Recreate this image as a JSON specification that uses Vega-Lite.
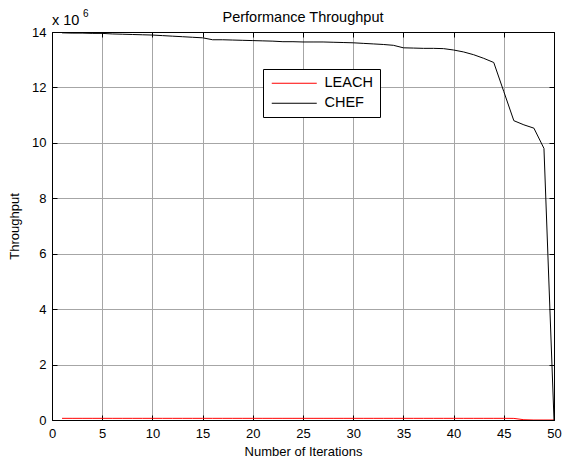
{
  "$schema": "https://vega.github.io/schema/vega-lite/v6.json",
  "width": 502,
  "height": 388,
  "autosize": {"type": "none"},
  "padding": {"left": 52, "top": 32, "right": 9, "bottom": 44},
  "background": "white",
  "title": {
    "text": "Performance Throughput",
    "font": "Liberation Sans",
    "fontSize": 14.5,
    "fontWeight": "normal",
    "color": "black",
    "anchor": "middle",
    "baseline": "alphabetic",
    "offset": -11,
    "dy": 16
  },
  "config": {
    "view": {"stroke": "black", "strokeWidth": 1},
    "font": "Liberation Sans",
    "axis": {
      "labelFont": "Liberation Sans",
      "labelFontSize": 13,
      "labelColor": "black",
      "labelFlush": false,
      "titleFont": "Liberation Sans",
      "titleFontSize": 13,
      "titleFontWeight": "normal",
      "titleColor": "black",
      "domainColor": "black",
      "tickColor": "black",
      "tickSize": -5,
      "gridColor": "#a6a6a6",
      "gridOpacity": 1,
      "gridWidth": 1
    }
  },
  "datasets": {
    "throughput": [
      {"iteration": 1, "series": "LEACH", "value": 60000},
      {"iteration": 2, "series": "LEACH", "value": 60000},
      {"iteration": 3, "series": "LEACH", "value": 60000},
      {"iteration": 4, "series": "LEACH", "value": 60000},
      {"iteration": 5, "series": "LEACH", "value": 60000},
      {"iteration": 6, "series": "LEACH", "value": 60000},
      {"iteration": 7, "series": "LEACH", "value": 60000},
      {"iteration": 8, "series": "LEACH", "value": 60000},
      {"iteration": 9, "series": "LEACH", "value": 60000},
      {"iteration": 10, "series": "LEACH", "value": 60000},
      {"iteration": 11, "series": "LEACH", "value": 60000},
      {"iteration": 12, "series": "LEACH", "value": 60000},
      {"iteration": 13, "series": "LEACH", "value": 60000},
      {"iteration": 14, "series": "LEACH", "value": 60000},
      {"iteration": 15, "series": "LEACH", "value": 60000},
      {"iteration": 16, "series": "LEACH", "value": 60000},
      {"iteration": 17, "series": "LEACH", "value": 60000},
      {"iteration": 18, "series": "LEACH", "value": 60000},
      {"iteration": 19, "series": "LEACH", "value": 60000},
      {"iteration": 20, "series": "LEACH", "value": 60000},
      {"iteration": 21, "series": "LEACH", "value": 60000},
      {"iteration": 22, "series": "LEACH", "value": 60000},
      {"iteration": 23, "series": "LEACH", "value": 60000},
      {"iteration": 24, "series": "LEACH", "value": 60000},
      {"iteration": 25, "series": "LEACH", "value": 60000},
      {"iteration": 26, "series": "LEACH", "value": 60000},
      {"iteration": 27, "series": "LEACH", "value": 60000},
      {"iteration": 28, "series": "LEACH", "value": 60000},
      {"iteration": 29, "series": "LEACH", "value": 60000},
      {"iteration": 30, "series": "LEACH", "value": 60000},
      {"iteration": 31, "series": "LEACH", "value": 60000},
      {"iteration": 32, "series": "LEACH", "value": 60000},
      {"iteration": 33, "series": "LEACH", "value": 60000},
      {"iteration": 34, "series": "LEACH", "value": 60000},
      {"iteration": 35, "series": "LEACH", "value": 60000},
      {"iteration": 36, "series": "LEACH", "value": 60000},
      {"iteration": 37, "series": "LEACH", "value": 60000},
      {"iteration": 38, "series": "LEACH", "value": 60000},
      {"iteration": 39, "series": "LEACH", "value": 60000},
      {"iteration": 40, "series": "LEACH", "value": 60000},
      {"iteration": 41, "series": "LEACH", "value": 60000},
      {"iteration": 42, "series": "LEACH", "value": 60000},
      {"iteration": 43, "series": "LEACH", "value": 60000},
      {"iteration": 44, "series": "LEACH", "value": 60000},
      {"iteration": 45, "series": "LEACH", "value": 60000},
      {"iteration": 46, "series": "LEACH", "value": 58000},
      {"iteration": 47, "series": "LEACH", "value": 10000},
      {"iteration": 48, "series": "LEACH", "value": 0},
      {"iteration": 49, "series": "LEACH", "value": 0},
      {"iteration": 50, "series": "LEACH", "value": 0},
      {"iteration": 1, "series": "CHEF", "value": 13970000},
      {"iteration": 2, "series": "CHEF", "value": 13960000},
      {"iteration": 3, "series": "CHEF", "value": 13960000},
      {"iteration": 4, "series": "CHEF", "value": 13950000},
      {"iteration": 5, "series": "CHEF", "value": 13950000},
      {"iteration": 6, "series": "CHEF", "value": 13930000},
      {"iteration": 7, "series": "CHEF", "value": 13920000},
      {"iteration": 8, "series": "CHEF", "value": 13910000},
      {"iteration": 9, "series": "CHEF", "value": 13900000},
      {"iteration": 10, "series": "CHEF", "value": 13890000},
      {"iteration": 11, "series": "CHEF", "value": 13870000},
      {"iteration": 12, "series": "CHEF", "value": 13850000},
      {"iteration": 13, "series": "CHEF", "value": 13830000},
      {"iteration": 14, "series": "CHEF", "value": 13810000},
      {"iteration": 15, "series": "CHEF", "value": 13790000},
      {"iteration": 16, "series": "CHEF", "value": 13720000},
      {"iteration": 17, "series": "CHEF", "value": 13720000},
      {"iteration": 18, "series": "CHEF", "value": 13710000},
      {"iteration": 19, "series": "CHEF", "value": 13700000},
      {"iteration": 20, "series": "CHEF", "value": 13690000},
      {"iteration": 21, "series": "CHEF", "value": 13680000},
      {"iteration": 22, "series": "CHEF", "value": 13670000},
      {"iteration": 23, "series": "CHEF", "value": 13650000},
      {"iteration": 24, "series": "CHEF", "value": 13650000},
      {"iteration": 25, "series": "CHEF", "value": 13640000},
      {"iteration": 26, "series": "CHEF", "value": 13640000},
      {"iteration": 27, "series": "CHEF", "value": 13640000},
      {"iteration": 28, "series": "CHEF", "value": 13630000},
      {"iteration": 29, "series": "CHEF", "value": 13620000},
      {"iteration": 30, "series": "CHEF", "value": 13610000},
      {"iteration": 31, "series": "CHEF", "value": 13590000},
      {"iteration": 32, "series": "CHEF", "value": 13570000},
      {"iteration": 33, "series": "CHEF", "value": 13550000},
      {"iteration": 34, "series": "CHEF", "value": 13520000},
      {"iteration": 35, "series": "CHEF", "value": 13430000},
      {"iteration": 36, "series": "CHEF", "value": 13420000},
      {"iteration": 37, "series": "CHEF", "value": 13410000},
      {"iteration": 38, "series": "CHEF", "value": 13410000},
      {"iteration": 39, "series": "CHEF", "value": 13400000},
      {"iteration": 40, "series": "CHEF", "value": 13350000},
      {"iteration": 41, "series": "CHEF", "value": 13280000},
      {"iteration": 42, "series": "CHEF", "value": 13180000},
      {"iteration": 43, "series": "CHEF", "value": 13050000},
      {"iteration": 44, "series": "CHEF", "value": 12900000},
      {"iteration": 45, "series": "CHEF", "value": 11850000},
      {"iteration": 46, "series": "CHEF", "value": 10800000},
      {"iteration": 47, "series": "CHEF", "value": 10650000},
      {"iteration": 48, "series": "CHEF", "value": 10530000},
      {"iteration": 49, "series": "CHEF", "value": 9800000},
      {"iteration": 50, "series": "CHEF", "value": 0}
    ]
  },
  "layer": [
    {
      "data": {"name": "throughput"},
      "mark": {"type": "line", "strokeWidth": 1, "clip": true},
      "encoding": {
        "x": {
          "field": "iteration",
          "type": "quantitative",
          "scale": {"domain": [0, 50], "nice": false, "zero": false},
          "axis": {
            "orient": "bottom",
            "title": "Number of Iterations",
            "values": [0, 5, 10, 15, 20, 25, 30, 35, 40, 45, 50],
            "labelPadding": 12,
            "titlePadding": 5,
            "grid": true
          }
        },
        "y": {
          "field": "value",
          "type": "quantitative",
          "scale": {"domain": [0, 14000000], "nice": false},
          "axis": {
            "orient": "left",
            "title": "Throughput",
            "values": [0, 2000000, 4000000, 6000000, 8000000, 10000000, 12000000, 14000000],
            "labelExpr": "datum.value / 1000000",
            "labelPadding": 11,
            "titlePadding": 10,
            "grid": true
          }
        },
        "color": {
          "field": "series",
          "type": "nominal",
          "scale": {"domain": ["LEACH", "CHEF"], "range": ["#ff0000", "#000000"]},
          "legend": {
            "title": null,
            "orient": "none",
            "legendX": 211,
            "legendY": 37,
            "fillColor": "white",
            "strokeColor": "black",
            "padding": 7,
            "symbolType": "M-4.5,0H4.5",
            "symbolSize": 100,
            "symbolStrokeWidth": 1,
            "symbolOffset": 17,
            "labelOffset": 23,
            "labelFont": "Liberation Sans",
            "labelFontSize": 14.5,
            "labelColor": "black",
            "rowPadding": 5
          }
        }
      }
    },
    {
      "data": {"values": [{}]},
      "mark": {"type": "text", "align": "left", "baseline": "alphabetic", "fontSize": 14.5, "dy": -7, "color": "black"},
      "encoding": {
        "text": {"value": "x 10"},
        "x": {
          "datum": 0,
          "type": "quantitative",
          "axis": {"orient": "top", "title": null, "labels": false, "grid": false, "values": [0, 5, 10, 15, 20, 25, 30, 35, 40, 45, 50]}
        },
        "y": {
          "datum": 14000000,
          "type": "quantitative",
          "axis": {"orient": "right", "title": null, "labels": false, "grid": false, "values": [0, 2000000, 4000000, 6000000, 8000000, 10000000, 12000000, 14000000]}
        }
      }
    },
    {
      "data": {"values": [{}]},
      "mark": {"type": "text", "align": "left", "baseline": "alphabetic", "fontSize": 10, "dx": 31, "dy": -15, "color": "black"},
      "encoding": {
        "text": {"value": "6"},
        "x": {"datum": 0, "type": "quantitative", "axis": null},
        "y": {"datum": 14000000, "type": "quantitative", "axis": null}
      }
    }
  ],
  "resolve": {"axis": {"x": "independent", "y": "independent"}}
}
